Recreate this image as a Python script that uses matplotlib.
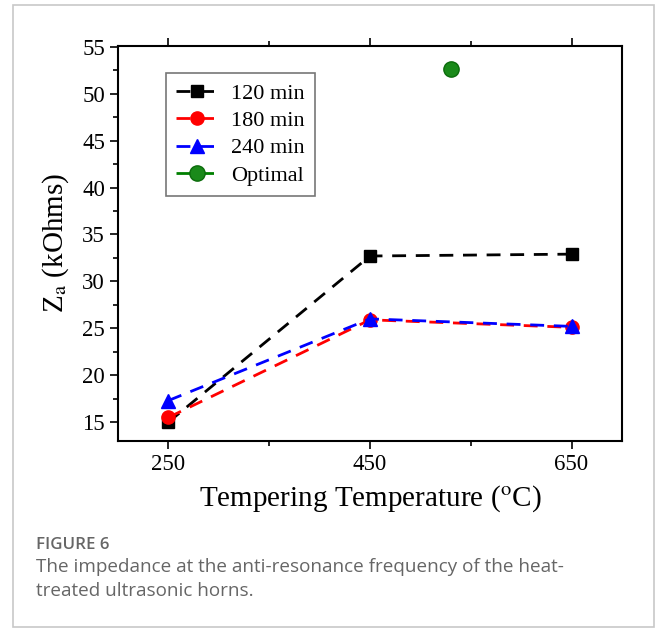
import numpy as np
import matplotlib
matplotlib.use("Agg")
import matplotlib.pyplot as plt
from matplotlib.patches import Rectangle

# Daten
temperatur = [250, 450, 650]
z_120 = [15.0, 32.7, 32.9]
z_180 = [15.5, 25.9, 25.1]
z_240 = [17.3, 26.0, 25.2]
opt_temp = [530]
opt_z = [52.6]

plt.rcParams['font.family'] = ['Liberation Serif', 'DejaVu Serif']
plt.rcParams['mathtext.fontset'] = 'stix'

fig = plt.figure(figsize=(6.56, 6.28), dpi=100)
ax = fig.add_axes([0.180, 0.298, 0.768, 0.629])

ax.plot(temperatur, z_120, color='black', ls=(0, (5, 3.5)), lw=2,
        marker='s', ms=8.5, label='120 min')
ax.plot(temperatur, z_180, color='red', ls=(0, (5, 3.5)), lw=2,
        marker='o', ms=9.5, label='180 min')
ax.plot(temperatur, z_240, color='blue', ls=(0, (5, 3.5)), lw=2,
        marker='^', ms=10, label='240 min')
ax.plot(opt_temp, opt_z, color='green', ls=(0, (5, 3.5)), lw=2,
        marker='o', ms=11, mfc='#1a8a1a', mec='#0b6b0b', label='Optimal')

ax.set_xlim(200, 700)
ax.set_ylim(13, 55.1)
ax.set_xticks([250, 450, 650])
ax.set_xticks([350, 550], minor=True)
ax.set_yticks(np.arange(15, 56, 5))
ax.set_yticks(np.arange(17.5, 55, 5), minor=True)
ax.tick_params(axis='both', which='major', direction='out', length=6,
               width=1.2, labelsize=16.5)
ax.tick_params(axis='both', which='minor', direction='out', length=3.5,
               width=1.2)
ax.tick_params(axis='x', which='both', top=True)
for sp in ax.spines.values():
    sp.set_linewidth(1.5)

ax.set_xlabel('Tempering Temperature ($^{\\rm o}$C)', fontsize=21, labelpad=6)
ax.set_ylabel('Z$_{\\rm a}$ (kOhms)', fontsize=21, labelpad=8)

leg = ax.legend(loc='upper left', bbox_to_anchor=(0.095, 0.93), fontsize=16,
                frameon=True, fancybox=False, edgecolor='#555555',
                borderaxespad=0, handlelength=1.9, handletextpad=0.6,
                borderpad=0.45, labelspacing=0.3)
leg.get_frame().set_linewidth(1.2)

# Rahmen und Bildunterschrift
fig.patches.append(Rectangle((13 / 656, 1 / 628), 641 / 656, 622 / 628,
                             transform=fig.transFigure, fill=False,
                             edgecolor='#c8c8c8', lw=1.2))
fig.text(36 / 656, 1 - 545 / 628, 'FIGURE 6', fontsize=12.2,
         family=['Open Sans', 'DejaVu Sans'], color='#666666',
         fontweight='semibold', va='center')
fig.text(36 / 656, 1 - 567 / 628,
         'The impedance at the anti-resonance frequency of the heat-',
         fontsize=13.6, family=['Open Sans', 'DejaVu Sans'], color='#666666',
         va='center')
fig.text(36 / 656, 1 - 591 / 628, 'treated ultrasonic horns.',
         fontsize=13.6, family=['Open Sans', 'DejaVu Sans'], color='#666666',
         va='center')

plt.savefig('out.png', dpi=100)
plt.close()
